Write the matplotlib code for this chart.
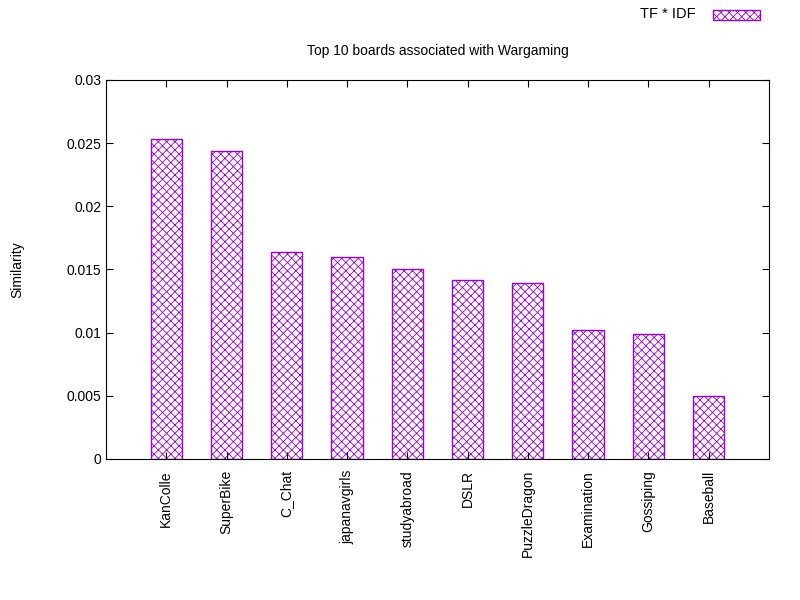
import matplotlib
matplotlib.use("Agg")
import matplotlib.pyplot as plt
from matplotlib.patches import Rectangle

boards = ["KanColle", "SuperBike", "C_Chat", "japanavgirls", "studyabroad",
          "DSLR", "PuzzleDragon", "Examination", "Gossiping", "Baseball"]
similarity = [0.0253, 0.0244, 0.0164, 0.0160, 0.0150,
              0.0142, 0.0139, 0.0102, 0.0099, 0.0050]

plt.rcParams['font.family'] = ['Liberation Sans', 'DejaVu Sans']
plt.rcParams['hatch.color'] = '#9400d3'
plt.rcParams['hatch.linewidth'] = 0.6

fig = plt.figure(figsize=(8, 6), dpi=100)
ax = fig.add_axes([0.1325, 0.235, 0.8285, 0.6317])

pos = list(range(len(boards)))
ax.bar(pos, similarity, width=0.52, facecolor='white', edgecolor='#9400d3',
       hatch='xxxx', linewidth=1)

ax.set_xlim(-1, 10)
ax.set_ylim(0, 0.03)
ax.set_yticks([0, 0.005, 0.01, 0.015, 0.02, 0.025, 0.03])
ax.set_yticklabels(["0", "0.005", "0.01", "0.015", "0.02", "0.025", "0.03"])
ax.set_xticks(pos)
ax.set_xticklabels(boards, rotation=90)
ax.tick_params(direction='in', top=True, right=True, labelsize=10, length=5)
ax.tick_params(axis='x', pad=8)
ax.set_ylabel("Similarity", fontsize=10, labelpad=30)
ax.set_title("Top 10 boards associated with Wargaming", fontsize=10, pad=18)

fig.text(0.835, 0.977, "TF * IDF", ha='center', va='center', fontsize=10.5)
fig.patches.append(Rectangle((0.891, 0.966), 0.059, 0.017, transform=fig.transFigure,
                             facecolor='white', edgecolor='#9400d3', hatch='xxxx',
                             linewidth=1))

fig.savefig("out.png", dpi=100)
